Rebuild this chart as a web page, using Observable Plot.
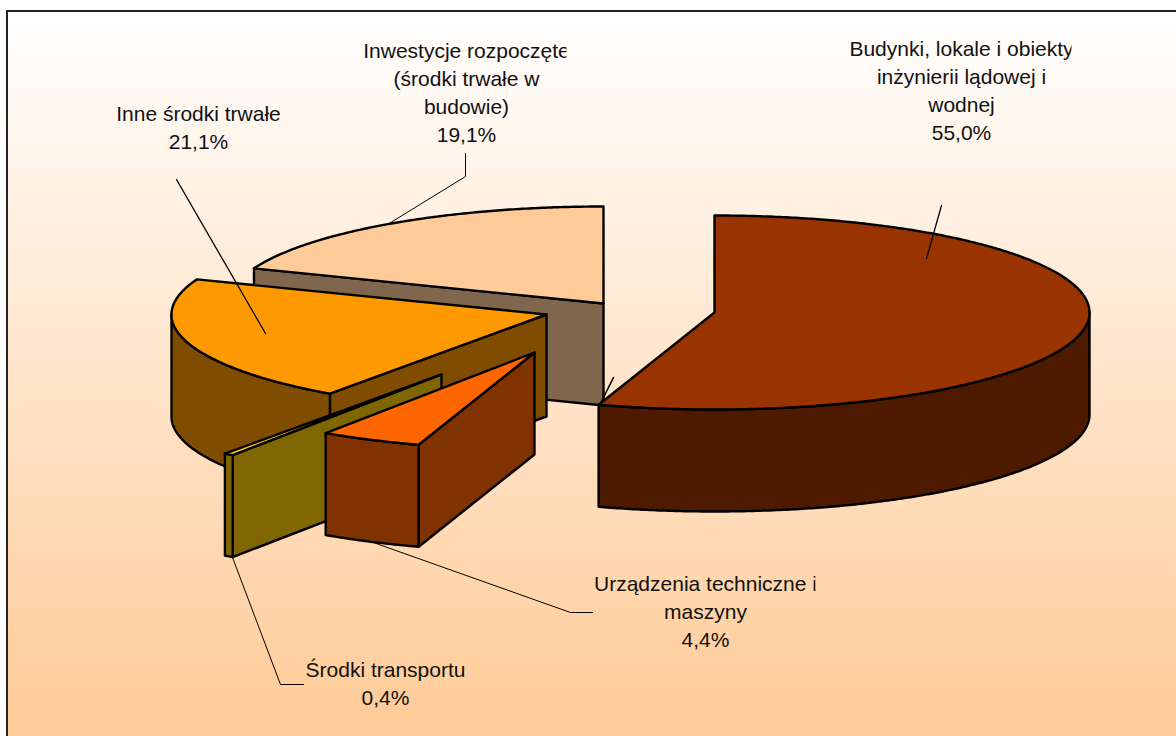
<!DOCTYPE html>
<html lang="pl">
<head>
<meta charset="utf-8">
<script src="https://cdn.jsdelivr.net/npm/d3@7"></script>
<script src="https://cdn.jsdelivr.net/npm/@observablehq/plot@0.6"></script>
<style>
  html, body { margin: 0; padding: 0; background: #fff; overflow: hidden; }
  #chart { position: relative; width: 1176px; height: 736px; }
  #panel { position: absolute; left: 6px; top: 10px; right: -10px; bottom: 0;
           border-left: 2px solid #222; border-top: 2px solid #222;
           background: linear-gradient(to bottom, #ffffff 0%, #ffcc99 97%); }
  #plot { position: absolute; left: 0; top: 0; }
  #plot svg { display: block; }
</style>
</head>
<body>
<div id="chart"><div id="panel"></div><div id="plot"></div></div>
<script>
// Data, clockwise from 12 o'clock
const sliceNames = ["Budynki, lokale i obiekty inżynierii lądowej i wodnej", "Urządzenia techniczne i maszyny", "Środki transportu", "Inne środki trwałe", "Inwestycje rozpoczęte (środki trwałe w budowie)"];
const sliceValues = [55.0, 4.4, 0.4, 21.1, 19.1];
const sliceColors = ["#993300", "#ff6600", "#ffcc00", "#ff9900", "#ffcc99"];

// 3D pie layout (exploded slice centres, ellipse radii, extrusion depth)
const explodeX = [714, 534, 441, 546, 603];
const explodeY = [312, 352, 374, 314, 303];
const radiusX = 375, radiusY = 97, depth = 102;

// Label text and placement
const labelLines = [
  "Budynki, lokale i obiekty\ninżynierii lądowej i\nwodnej\n55,0%",
  "Urządzenia techniczne i\nmaszyny\n4,4%",
  "Środki transportu\n0,4%",
  "Inne środki trwałe\n21,1%",
  "Inwestycje rozpoczęte\n(środki trwałe w\nbudowie)\n19,1%"
];
const labelX = [961, 705, 385, 198, 466];
const labelY = [36, 571, 657, 101, 38];
const labelClipRight = [1071, 815, 1176, 1176, 566];

// Leader lines
const leaders = [
  {w: 1.3, pts: [[941, 205], [926, 258]]},
  {w: 1.6, pts: [[613, 377], [600, 403]]},
  {w: 1, pts: [[370, 541], [570, 612], [592, 612]]},
  {w: 1, pts: [[232, 557], [280, 684], [303, 684]]},
  {w: 1.3, pts: [[176, 179], [265, 333]]},
  {w: 1, pts: [[387, 224], [465, 176], [465, 153]]}
];

const rad = (d) => (d * Math.PI) / 180;
const rim = (i, a, dz = 0) => [
  explodeX[i] + radiusX * Math.sin(rad(a)),
  explodeY[i] - radiusY * Math.cos(rad(a)) + dz
];
const arc = (i, a0, a1, dz = 0) => {
  const pts = [];
  const n = Math.max(2, Math.ceil(Math.abs(a1 - a0) / 0.5));
  for (let k = 0; k <= n; ++k) pts.push(rim(i, a0 + ((a1 - a0) * k) / n, dz));
  return pts;
};
const shade = (c) => {
  const r = d3.rgb(c);
  return d3.rgb(r.r / 2, r.g / 2, r.b / 2).formatHex();
};
const facet = (pts, fill) =>
  Plot.line(pts, {x: (d) => d[0], y: (d) => d[1], fill, stroke: "#000", strokeWidth: 2.4,
                  strokeLinejoin: "round", curve: "linear-closed"});

// Angular extents from the values
let acc = 0;
const spans = sliceValues.map((v) => { const s = [acc, acc + v * 3.6]; acc += v * 3.6; return s; });

const sliceMarks = [];
for (let i = sliceValues.length - 1; i >= 0; --i) {
  const [a0, a1] = spans[i];
  const cx = explodeX[i], cy = explodeY[i];
  const dark = shade(sliceColors[i]);
  if (Math.sin(rad(a0)) < -1e-6) {
    sliceMarks.push(facet([[cx, cy], rim(i, a0), rim(i, a0, depth), [cx, cy + depth]], dark));
  }
  const w0 = Math.max(a0, 90), w1 = Math.min(a1, 270);
  if (w1 > w0) {
    sliceMarks.push(facet([...arc(i, w0, w1), ...arc(i, w1, w0, depth)], dark));
  }
  sliceMarks.push(facet([[cx, cy], ...arc(i, a0, a1)], sliceColors[i]));
}

const leaderMarks = leaders.map((l) =>
  Plot.line(l.pts, {x: (d) => d[0], y: (d) => d[1], stroke: "#000", strokeWidth: l.w})
);

const labelMarks = labelLines.map((t, i) =>
  Plot.text([t], {x: () => labelX[i], y: () => labelY[i], text: (d) => d, textAnchor: "middle", lineAnchor: "top",
                  lineHeight: 1.33, fill: "#111", fontSize: 21})
);

const chart = Plot.plot({
  width: 1176, height: 736,
  marginTop: 0, marginRight: 0, marginBottom: 0, marginLeft: 0,
  x: {domain: [0, 1176], range: [0, 1176], axis: null},
  y: {domain: [0, 736], range: [0, 736], axis: null},
  style: {background: "transparent", fontFamily: "'Liberation Sans', Arial, sans-serif"},
  marks: [...sliceMarks, ...leaderMarks, ...labelMarks]
});

// Labels are clipped at their text-box edge, as in the source chart
const svg = d3.select(chart);
const defs = svg.append("defs");
svg.selectAll("text").each(function (_, i) {
  defs.append("clipPath").attr("id", "labelclip" + i)
    .append("rect").attr("x", 0).attr("y", 0).attr("width", labelClipRight[i]).attr("height", 736);
  d3.select(this.parentNode).attr("clip-path", "url(#labelclip" + i + ")");
});
document.getElementById("plot").appendChild(chart);
</script>
</body>
</html>
